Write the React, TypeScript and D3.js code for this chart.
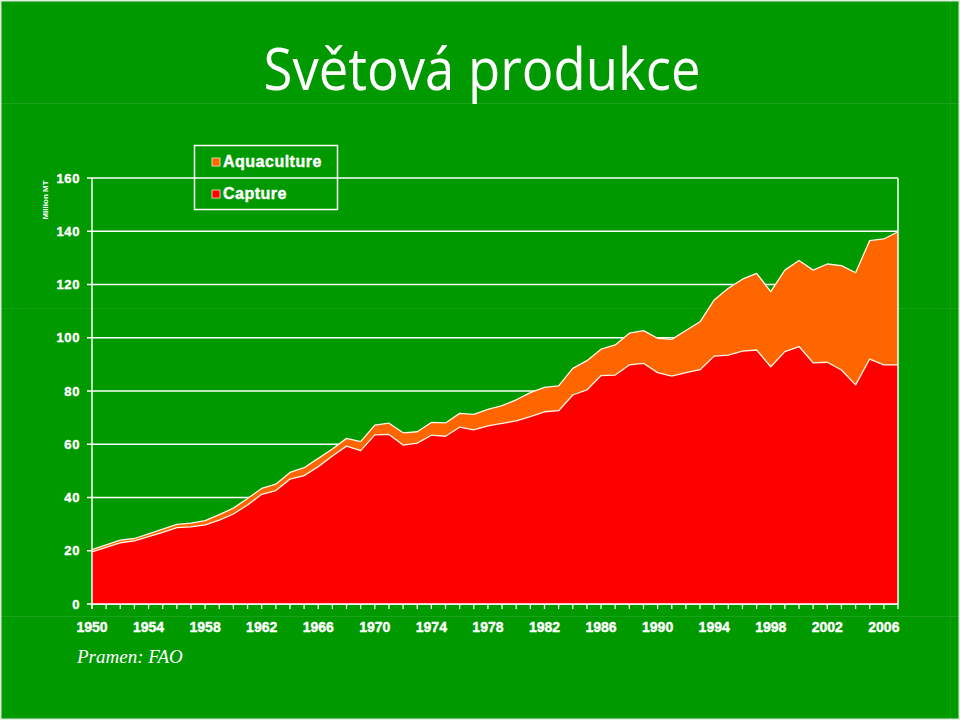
import React from "react";
import * as d3 from "d3";

const years: number[] = d3.range(1950, 2008);

const capture: number[] = [
  19.6, 21.3, 23.0, 23.7, 25.3, 26.9, 28.7, 29.0, 29.7, 31.5,
  33.8, 37.2, 41.2, 42.6, 46.9, 48.2, 51.6, 55.6, 59.3, 57.6,
  63.5, 63.7, 59.7, 60.4, 63.4, 63.0, 66.4, 65.4, 66.9, 67.8,
  68.8, 70.4, 72.2, 72.6, 78.5, 80.4, 85.8, 86.0, 89.8, 90.4,
  86.9, 85.6, 86.9, 88.0, 93.1, 93.5, 95.0, 95.4, 89.1, 94.8,
  96.7, 90.6, 90.8, 87.9, 82.3, 92.0, 89.8, 89.8,
];

const aquaculture: number[] = [
  0.8, 0.9, 1.0, 0.9, 1.0, 1.2, 1.2, 1.4, 1.6, 2.1,
  2.2, 2.4, 2.2, 2.4, 2.5, 3.0, 3.1, 2.6, 2.9, 3.4,
  3.7, 4.2, 4.6, 4.3, 4.8, 5.0, 5.2, 5.8, 6.2, 6.7,
  7.9, 9.0, 9.2, 9.3, 10.0, 11.0, 9.9, 11.3, 11.9, 12.3,
  12.9, 13.8, 15.8, 18.0, 21.1, 25.1, 27.0, 28.8, 28.2, 30.6,
  32.3, 34.8, 36.9, 39.2, 42.1, 44.5, 47.3, 50.0,
];

const yTicks: number[] = [0, 20, 40, 60, 80, 100, 120, 140, 160];
const xLabelYears: number[] = d3.range(1950, 2007, 4);
const seriesNames: string[] = ["Aquaculture", "Capture"];

const BG = "#009900";
const RED = "#ff0000";
const ORANGE = "#ff6600";

export default function App() {
  const left = 92;
  const right = 898;
  const top = 178;
  const bottom = 604;

  const x = d3.scaleLinear().domain([1950, 2007]).range([left, right]);
  const y = d3.scaleLinear().domain([0, 160]).range([bottom, top]);

  const rows = years.map((yr, i) => ({
    year: yr,
    capture: capture[i],
    aquaculture: aquaculture[i],
  }));
  const stack = d3.stack<any>().keys(["capture", "aquaculture"]);
  const layers = stack(rows);

  const area = d3
    .area<any>()
    .x((d) => x(d.data.year))
    .y0((d) => y(d[0]))
    .y1((d) => y(d[1]));
  const topLine = d3
    .line<any>()
    .x((d) => x(d.data.year))
    .y((d) => y(d[1]));

  const fills = [RED, ORANGE];

  return (
    <svg
      width={960}
      height={720}
      style={{ position: "absolute", left: 0, top: 0 }}
      fontFamily="'Liberation Sans', Arial, sans-serif"
    >
      <rect x={0} y={0} width={960} height={720} fill={BG} />
      {/* faint slide artifacts */}
      <line x1={0} x2={960} y1={103.5} y2={103.5} stroke="#1aa31a" strokeWidth={1} />
      <line x1={0} x2={960} y1={308.5} y2={308.5} stroke="#12a012" strokeWidth={1} />
      <line x1={0} x2={960} y1={616.5} y2={616.5} stroke="#1aa31a" strokeWidth={1} />
      <line x1={950.5} x2={950.5} y1={0} y2={720} stroke="#12a012" strokeWidth={1} />
      <rect x={0.75} y={0.75} width={958.5} height={718.5} fill="none" stroke="#dfeedf" strokeWidth={1.5} />

      {/* title */}
      <text
        x={482}
        y={90}
        textAnchor="middle"
        fill="#ffffff"
        fontFamily="'Open Sans', 'Noto Sans', sans-serif"
        fontSize={58}
        textLength={437}
        lengthAdjust="spacingAndGlyphs"
      >
        Světová produkce
      </text>

      {/* gridlines */}
      {yTicks.map((t) => (
        <line
          key={"g" + t}
          x1={left}
          x2={right}
          y1={y(t)}
          y2={y(t)}
          stroke="#ffffff"
          strokeWidth={1.5}
        />
      ))}

      {/* areas */}
      {layers.map((layer, i) => (
        <path key={"a" + i} d={area(layer) || ""} fill={fills[i]} />
      ))}
      {layers.map((layer, i) => (
        <path
          key={"l" + i}
          d={topLine(layer) || ""}
          fill="none"
          stroke="#fff8e8"
          strokeWidth={1.3}
          strokeLinejoin="round"
        />
      ))}

      {/* right border */}
      <line x1={right} x2={right} y1={top} y2={bottom} stroke="#ffffff" strokeWidth={1.5} />

      {/* y axis */}
      <line x1={left} x2={left} y1={top} y2={bottom + 5} stroke="#ffffff" strokeWidth={1.5} />
      {yTicks.map((t) => (
        <g key={"yt" + t}>
          <line x1={left - 5} x2={left} y1={y(t)} y2={y(t)} stroke="#ffffff" strokeWidth={1.5} />
          <text
            x={80}
            y={y(t)}
            dy="0.36em"
            textAnchor="end"
            fill="#ffffff"
            stroke="#ffffff"
            strokeWidth={0.4}
            fontWeight="bold"
            fontSize={13}
            letterSpacing={0.6}
          >
            {t}
          </text>
        </g>
      ))}
      <text
        transform="translate(48,200) rotate(-90)"
        textAnchor="middle"
        fill="#ffffff"
        fontWeight="bold"
        fontSize={8}
      >
        Million MT
      </text>

      {/* x axis */}
      <line x1={left} x2={right} y1={bottom} y2={bottom} stroke="#ffffff" strokeWidth={1.5} />
      {years.map((yr) => (
        <line
          key={"xt" + yr}
          x1={x(yr)}
          x2={x(yr)}
          y1={bottom}
          y2={bottom + 5}
          stroke="#ffffff"
          strokeWidth={1.3}
        />
      ))}
      {xLabelYears.map((yr) => (
        <text
          key={"xl" + yr}
          x={x(yr)}
          y={632}
          textAnchor="middle"
          fill="#ffffff"
          stroke="#ffffff"
          strokeWidth={0.4}
          fontWeight="bold"
          fontSize={14}
        >
          {yr}
        </text>
      ))}

      {/* legend */}
      <rect x={194.5} y={145.5} width={143} height={64} fill="none" stroke="#ffffff" strokeWidth={1.5} />
      {seriesNames.map((name, i) => (
        <g key={"lg" + name} transform={`translate(0, ${i * 32})`}>
          <rect
            x={212}
            y={158}
            width={8}
            height={8}
            fill={i === 0 ? ORANGE : RED}
            stroke="#ffe0d0"
            strokeWidth={0.8}
          />
          <text
            x={223}
            y={167}
            fill="#ffffff"
            stroke="#ffffff"
            strokeWidth={0.4}
            fontWeight="bold"
            fontSize={16}
            letterSpacing={0.5}
          >
            {name}
          </text>
        </g>
      ))}

      {/* source */}
      <text
        x={77}
        y={663}
        fill="#ffffff"
        fontFamily="'Liberation Serif', 'Times New Roman', serif"
        fontStyle="italic"
        fontSize={19}
      >
        Pramen: FAO
      </text>
    </svg>
  );
}
